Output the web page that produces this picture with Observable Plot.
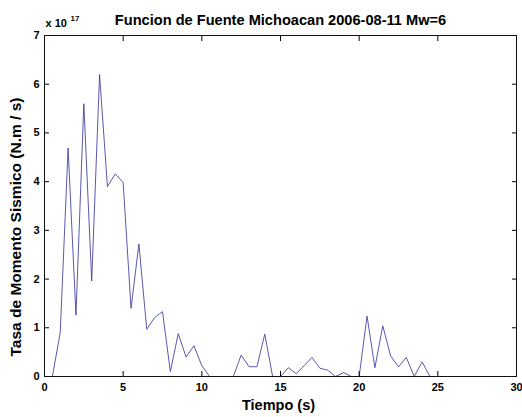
<!DOCTYPE html>
<html><head><meta charset="utf-8">
<script src="https://cdn.jsdelivr.net/npm/d3@7"></script>
<script src="https://cdn.jsdelivr.net/npm/@observablehq/plot@0.6"></script>
<style>html,body{margin:0;padding:0;background:#fff} svg{display:block}</style>
</head><body><div id="chart"></div>
<script>
const tiempo = [0.5,1,1.5,2,2.5,3,3.5,4,4.5,5,5.5,6,6.5,7,7.5,8,8.5,9,9.5,10,10.5,11,11.5,12,12.5,13,13.5,14,14.5,15,15.5,16,16.5,17,17.5,18,18.5,19,19.5,20,20.5,21,21.5,22,22.5,23,23.5,24,24.5,25];
const tasa = [0,0.9,4.69,1.26,5.6,1.96,6.2,3.9,4.16,3.98,1.4,2.72,0.97,1.21,1.33,0.1,0.88,0.4,0.63,0.22,0,0,0,0,0.44,0.2,0.2,0.87,0,0,0.18,0.06,0.22,0.39,0.17,0.13,0,0.08,0,0,1.24,0.18,1.04,0.42,0.2,0.39,0,0.3,0,0];
const xTicks = [0,5,10,15,20,25,30];
const yTicks = [0,1,2,3,4,5,6,7];
const titulo = "Funcion de Fuente Michoacan 2006-08-11 Mw=6";
const xLabel = "Tiempo (s)";
const yLabel = "Tasa de Momento Sismico (N.m / s)";
const expBase = "x 10";
const expPow = "17";

const data = tiempo.map((t, i) => ({t, v: tasa[i]}));
const font = "'Liberation Sans', Arial, Helvetica, sans-serif";

const chart = Plot.plot({
  width: 522,
  height: 417,
  marginLeft: 44,
  marginRight: 6,
  marginTop: 35,
  marginBottom: 41,
  style: {fontFamily: font, fontSize: "11px", fontWeight: "bold", color: "#000", background: "#fff"},
  x: {domain: [0, 30], label: null},
  y: {domain: [0, 7], label: null},
  marks: [
    Plot.line(data, {x: "t", y: "v", stroke: "#3b3ba0", strokeWidth: 0.85}),
    Plot.axisX(xTicks, {anchor: "bottom", tickSize: -5, tickPadding: 12, label: null, stroke: "#000"}),
    Plot.axisX(xTicks, {anchor: "top", tickSize: -5, tickFormat: () => "", label: null, stroke: "#000"}),
    Plot.axisY(yTicks, {anchor: "left", tickSize: -5, tickPadding: 10, label: null, stroke: "#000"}),
    Plot.axisY(yTicks, {anchor: "right", tickSize: -5, tickFormat: () => "", label: null, stroke: "#000"}),
    Plot.frame({stroke: "#111", strokeWidth: 1}),
    Plot.text([titulo], {frameAnchor: "top", dy: -15, lineAnchor: "middle", fontSize: 14.6, fontWeight: "bold", fill: "#000"}),
    Plot.text([expBase], {frameAnchor: "top-left", dx: 1, dy: -12, textAnchor: "start", lineAnchor: "middle", fontSize: 11, fontWeight: "bold", fill: "#000"}),
    Plot.text([expPow], {frameAnchor: "top-left", dx: 26, dy: -17.5, textAnchor: "start", lineAnchor: "middle", fontSize: 8, fontWeight: "bold", fill: "#000"}),
    Plot.text([xLabel], {frameAnchor: "bottom", dx: -2, dy: 29.2, lineAnchor: "middle", fontSize: 14.5, fontWeight: "bold", fill: "#000"}),
    Plot.text([yLabel], {frameAnchor: "left", dx: -28, dy: 21, rotate: -90, textAnchor: "middle", lineAnchor: "middle", fontSize: 15.5, fontWeight: "bold", fill: "#000"})
  ]
});
document.getElementById("chart").appendChild(chart);
</script>
</body></html>
